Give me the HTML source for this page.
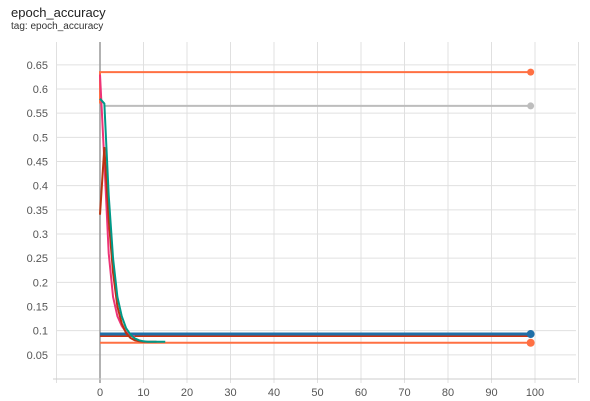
<!DOCTYPE html>
<html><head><meta charset="utf-8"><style>
body{margin:0;background:#fff;font-family:"Liberation Sans",sans-serif}
#t{position:absolute;left:11px;top:5px;font-size:13px;color:#212121}
#s{position:absolute;left:11px;top:21px;font-size:10px;color:#333}
</style></head><body>
<div id="t">epoch_accuracy</div>
<div id="s">tag: epoch_accuracy</div>
<svg id="c" width="590" height="401" style="position:absolute;left:0;top:0"></svg>
<script>
const xTicks=[0,10,20,30,40,50,60,70,80,90,100];
const yTicks=[0.05,0.1,0.15,0.2,0.25,0.3,0.35,0.4,0.45,0.5,0.55,0.6,0.65];
const flatOrange=[[0,0.57],[0,0.635],[99,0.635]];
const flatGray=[[1,0.565],[99,0.565]];
const flatBlue=[[0,0.093],[99,0.093]];
const flatRed=[[0,0.089],[99,0.089]];
const flatOrange2=[[0,0.075],[99,0.075]];
const tealVals=[0.58,0.57,0.38,0.25,0.17,0.13,0.105,0.092,0.084,0.08,0.078,0.077,0.077,0.077,0.077,0.077];
const darkRedVals=[0.34,0.48,0.33,0.22,0.15,0.115,0.095,0.085,0.08,0.078,0.077,0.077,0.077,0.077];
const pinkVals=[0.63,0.45,0.26,0.17,0.13,0.11,0.097,0.09,0.088];
const X=v=>100+v*4.35, Y=v=>379-v*483.3;
const svg=document.getElementById('c');
function el(tag,a){const e=document.createElementNS('http://www.w3.org/2000/svg',tag);for(const k in a)e.setAttribute(k,a[k]);svg.appendChild(e);return e;}
for(const v of yTicks){const g=el('line',{x1:57,x2:576,y1:Y(v),y2:Y(v),stroke:'#e0e0e0'});

const t=el('text',{x:48,y:Y(v)+4,'text-anchor':'end','font-size':11,fill:'#555','font-family':'Liberation Sans,sans-serif'});t.textContent=v;
}
const xg=[-10].concat(xTicks).concat([110]);
for(const v of xg){const g=el('line',{x1:X(v),x2:X(v),y1:42,y2:383,stroke:v===0?'#999':'#e0e0e0','stroke-width':v===0?1.5:1});
}
for(const v of xTicks){const t=el('text',{x:X(v),y:396,'text-anchor':'middle','font-size':11,fill:'#555','font-family':'Liberation Sans,sans-serif'});t.textContent=v;
}
const ax=el('line',{x1:53,x2:576,y1:379,y2:379,stroke:'#ccc'});

function line(pts,color,w,name){const p=el('polyline',{points:pts.map(d=>X(d[0])+','+Y(d[1])).join(' '),fill:'none',stroke:color,'stroke-width':w});
}
const arr=v=>v.map((y,i)=>[i,y]);
line(flatGray,'#bdbdbd',2,'series-gray');
line(flatOrange,'#ff7043',2,'series-orange-high');
line(flatOrange2,'#ff7043',2,'series-orange-low');
line(flatRed,'#cc3311',2,'series-red');
line(flatBlue,'#1f6fa8',3,'series-blue');
line(arr(pinkVals),'#ee3377',2,'series-pink');
line(arr(darkRedVals),'#bb3311',2,'series-dark-red');
line(arr(tealVals),'#009988',2,'series-teal');
function dot(v,c,r,n){const d=el('circle',{cx:X(99),cy:Y(v),r:r,fill:c});}
dot(0.635,'#ff7043',3.5,'end-dot-orange');dot(0.565,'#bdbdbd',3.5,'end-dot-gray');
dot(0.075,'#ff7043',4,'end-dot-orange-low');dot(0.093,'#1f6fa8',4,'end-dot-blue');
</script>
</body></html>
